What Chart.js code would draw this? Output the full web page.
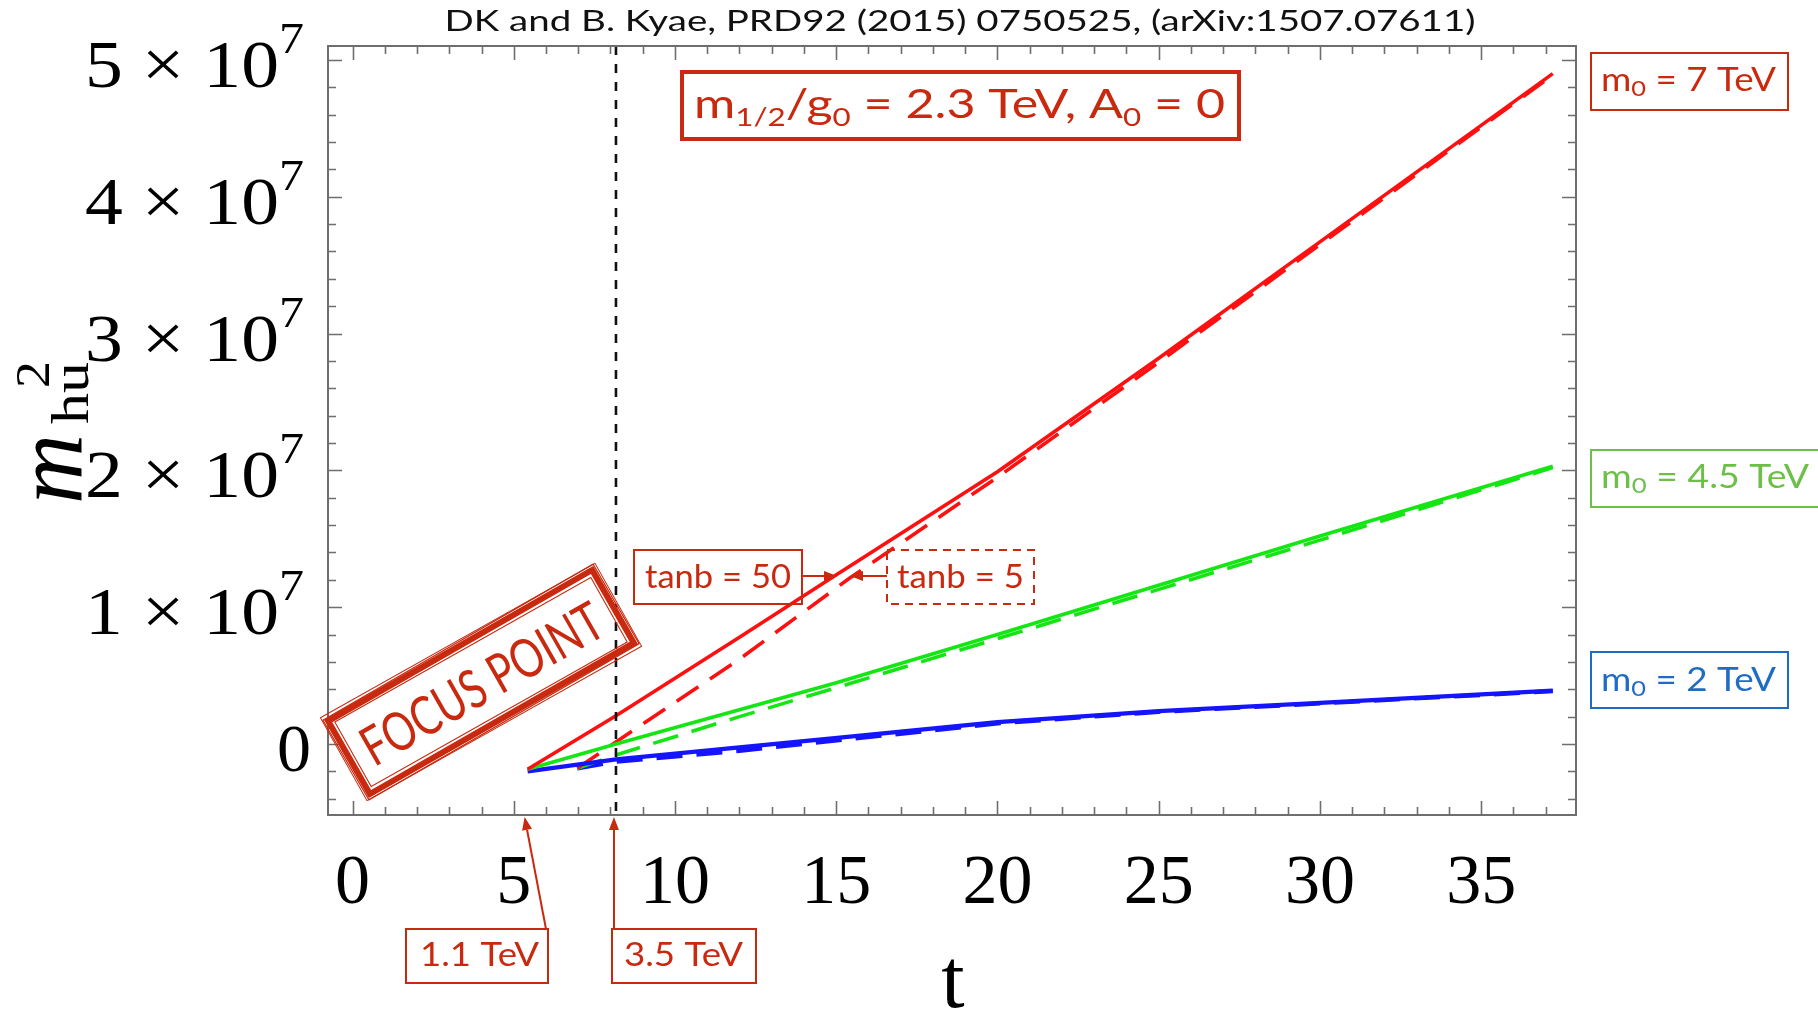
<!DOCTYPE html>
<html>
<head>
<meta charset="utf-8">
<title>m_Hu^2 running</title>
<script src="https://cdn.jsdelivr.net/npm/chart.js@4.4.1/dist/chart.umd.min.js"></script>
<style>
  html, body { margin: 0; padding: 0; background: #fff; }
  #wrap { width: 1818px; height: 1010px; }
</style>
</head>
<body>
<div id="wrap"><canvas id="chart" width="1818" height="1010"></canvas></div>
<script>
// m_Hu^2 running with t; solid = tanb 50, dashed = tanb 5
const tSolid = [5.43, 8.17, 12, 15.03, 20, 25, 30, 37.22];
const tDashed = [6.97, 8.17, 12, 15.4, 20, 25, 30, 37.22];

const m7Solid = [-0.185e7, 0.207e7, 0.78e7, 1.24e7, 1.99e7, 2.82e7, 3.67e7, 4.90e7];
const m45Solid = [-0.185e7, 0.0, 0.25e7, 0.45e7, 0.80e7, 1.16e7, 1.52e7, 2.03e7];
const m2Solid = [-0.20e7, -0.112e7, -0.025e7, 0.045e7, 0.16e7, 0.24e7, 0.30e7, 0.39e7];

const m7Dashed = [-0.178e7, 0.015e7, 0.62e7, 1.21e7, 1.95e7, 2.79e7, 3.65e7, 4.89e7];
const m45Dashed = [-0.178e7, -0.08e7, 0.20e7, 0.44e7, 0.77e7, 1.13e7, 1.49e7, 2.02e7];
const m2Dashed = [-0.178e7, -0.13e7, -0.05e7, 0.035e7, 0.15e7, 0.235e7, 0.296e7, 0.386e7];

const tFocus = 8.17; // m0 = 3.5 TeV crossing

const xTickValues = [0, 5, 10, 15, 20, 25, 30, 35];
const xTickLabels = ['0', '5', '10', '15', '20', '25', '30', '35'];
const yTickValues = [0, 1e7, 2e7, 3e7, 4e7, 5e7];
const yTickLabels = ['0', '1', '2', '3', '4', '5'];

const SERIF = '"Liberation Serif", "DejaVu Serif", serif';
const SANS = 'Lato, "Open Sans", sans-serif';
const ANN_RED = '#c8290f';
const ANN_GREEN = '#6cc04a';
const ANN_BLUE = '#1f6cc4';

function series(t, m, color, dash, width) {
  return {
    data: t.map((x, i) => ({ x: x, y: m[i] })),
    showLine: true,
    borderColor: color,
    borderWidth: width,
    borderDash: dash,
    pointRadius: 0,
    fill: false,
    tension: 0
  };
}

function fontOf(s, family) {
  return (s.style || '') + ' ' + (s.weight || '') + ' ' + s.size + 'px ' + (s.family || family);
}

// draws a run of text pieces (sub/superscripts via dy), optionally squeezed to a width
function drawRich(ctx, segs, x, y, o) {
  ctx.save();
  let natural = 0;
  segs.forEach(s => { ctx.font = fontOf(s, o.family); natural += ctx.measureText(s.text).width; });
  const sx = o.width ? o.width / natural : 1;
  const w = natural * sx;
  const start = o.align === 'center' ? x - w / 2 : o.align === 'right' ? x - w : x;
  ctx.translate(start, y);
  ctx.scale(sx, 1);
  ctx.fillStyle = o.color;
  ctx.textAlign = 'left';
  ctx.textBaseline = 'alphabetic';
  let cx = 0;
  segs.forEach(s => {
    ctx.font = fontOf(s, o.family);
    ctx.fillText(s.text, cx, s.dy || 0);
    cx += ctx.measureText(s.text).width;
  });
  ctx.restore();
}

function rect(ctx, x0, y0, x1, y1, color, lw, dash) {
  ctx.save();
  ctx.strokeStyle = color;
  ctx.lineWidth = lw;
  ctx.setLineDash(dash || []);
  ctx.strokeRect(x0, y0, x1 - x0, y1 - y0);
  ctx.restore();
}

function arrow(ctx, x0, y0, x1, y1, color) {
  const a = Math.atan2(y1 - y0, x1 - x0);
  const len = 13, half = 5;
  ctx.save();
  ctx.strokeStyle = color;
  ctx.fillStyle = color;
  ctx.lineWidth = 2;
  ctx.beginPath();
  ctx.moveTo(x0, y0);
  ctx.lineTo(x1 - len * Math.cos(a), y1 - len * Math.sin(a));
  ctx.stroke();
  ctx.beginPath();
  ctx.moveTo(x1, y1);
  ctx.lineTo(x1 - len * Math.cos(a) + half * Math.sin(a), y1 - len * Math.sin(a) - half * Math.cos(a));
  ctx.lineTo(x1 - len * Math.cos(a) - half * Math.sin(a), y1 - len * Math.sin(a) + half * Math.cos(a));
  ctx.closePath();
  ctx.fill();
  ctx.restore();
}

const framePlugin = {
  id: 'frame',
  afterDatasetsDraw(chart) {
    const ctx = chart.ctx;
    const a = chart.chartArea;
    const xs = chart.scales.x, ys = chart.scales.y;

    // vertical dashed marker
    const xf = xs.getPixelForValue(tFocus);
    ctx.save();
    ctx.strokeStyle = '#111';
    ctx.lineWidth = 2.6;
    ctx.setLineDash([9, 9]);
    ctx.beginPath();
    ctx.moveTo(xf, a.top);
    ctx.lineTo(xf, a.bottom);
    ctx.stroke();
    ctx.restore();

    // frame with inward ticks on all sides
    ctx.save();
    ctx.strokeStyle = '#6e6e6e';
    ctx.lineWidth = 2;
    ctx.strokeRect(a.left, a.top, a.right - a.left, a.bottom - a.top);
    ctx.lineWidth = 1.6;
    ctx.beginPath();
    for (let t = 0; t <= Math.floor(xs.max); t++) {
      const px = Math.round(xs.getPixelForValue(t)) + 0.5;
      const L = t % 5 === 0 ? 14 : 8;
      ctx.moveTo(px, a.bottom); ctx.lineTo(px, a.bottom - L);
      ctx.moveTo(px, a.top); ctx.lineTo(px, a.top + L);
    }
    for (let k = Math.ceil(ys.min / 2e6); k * 2e6 <= ys.max; k++) {
      const py = Math.round(ys.getPixelForValue(k * 2e6)) + 0.5;
      const L = k % 5 === 0 ? 14 : 8;
      ctx.moveTo(a.left, py); ctx.lineTo(a.left + L, py);
      ctx.moveTo(a.right, py); ctx.lineTo(a.right - L, py);
    }
    ctx.stroke();
    ctx.restore();

    // tick labels
    xTickValues.forEach((v, i) => {
      drawRich(ctx, [{ text: xTickLabels[i], size: 70 }], xs.getPixelForValue(v), 903,
        { family: SERIF, color: '#000', align: 'center' });
    });
    yTickValues.forEach((v, i) => {
      const py = ys.getPixelForValue(v) + 27;
      if (v === 0) {
        drawRich(ctx, [{ text: '0', size: 68 }], 311, py, { family: SERIF, color: '#000', align: 'right' });
      } else {
        drawRich(ctx, [{ text: yTickLabels[i] + ' \u00d7 10', size: 68 }, { text: '7', size: 45, dy: -34 }],
          304, py, { family: SERIF, color: '#000', align: 'right', width: 219 });
      }
    });

    // axis titles
    drawRich(ctx, [{ text: 't', size: 84 }], 953, 1007, { family: SERIF, color: '#000', align: 'center' });
    ctx.save();
    ctx.translate(81, 504);
    ctx.rotate(-Math.PI / 2);
    drawRich(ctx, [{ text: 'm', size: 98, style: 'italic' }], 0, 0, { family: SERIF, color: '#000', align: 'left', width: 70 });
    ctx.restore();
    ctx.save();
    ctx.translate(88, 424);
    ctx.rotate(-Math.PI / 2);
    drawRich(ctx, [{ text: 'hu', size: 52 }], 0, 0, { family: SERIF, color: '#000', align: 'left', width: 62 });
    ctx.restore();
    ctx.save();
    ctx.translate(49, 388);
    ctx.rotate(-Math.PI / 2);
    drawRich(ctx, [{ text: '2', size: 48 }], 0, 0, { family: SERIF, color: '#000', align: 'left', width: 27 });
    ctx.restore();
  }
};

// rough rubber-stamp outline: a heavy stroke plus a few thin offset strokes
function stampFrame(ctx, W, H, color) {
  ctx.strokeStyle = color;
  ctx.lineWidth = 6;
  ctx.strokeRect(-W / 2 + 4, -H / 2 + 4, W - 8, H - 8);
  const layers = [[0, -0.004, 1.2], [2, 0.003, 1.4], [9, 0.006, 1.1], [-1.5, 0.008, 1]];
  layers.forEach(([inset, rot, lw]) => {
    ctx.save();
    ctx.rotate(rot);
    ctx.lineWidth = lw;
    ctx.strokeRect(-W / 2 + inset, -H / 2 + inset, W - 2 * inset, H - 2 * inset);
    ctx.restore();
  });
}

const notesPlugin = {
  id: 'notes',
  afterDraw(chart) {
    const ctx = chart.ctx;
    const xs = chart.scales.x;
    const a = chart.chartArea;

    // header
    drawRich(ctx, [{ text: 'DK and B. Kyae, PRD92 (2015) 0750525, (arXiv:1507.07611)', size: 29 }],
      960, 31, { family: SANS, color: '#111', align: 'center', width: 1031 });

    // parameter box
    rect(ctx, 682, 72, 1239, 139, ANN_RED, 4);
    drawRich(ctx, [
      { text: 'm', size: 40 }, { text: '1/2', size: 25, dy: 8 }, { text: '/g', size: 40 },
      { text: '0', size: 25, dy: 8 }, { text: ' = 2.3 TeV, A', size: 40 }, { text: '0', size: 25, dy: 8 },
      { text: ' = 0', size: 40 }
    ], 694, 118, { family: SANS, color: ANN_RED, align: 'left', width: 531 });

    // m0 labels on the right
    const m0 = (val) => [{ text: 'm', size: 32 }, { text: '0', size: 22, dy: 5 }, { text: ' = ' + val + ' TeV', size: 32 }];
    rect(ctx, 1591, 53, 1788, 110, ANN_RED, 2);
    drawRich(ctx, m0('7'), 1601, 91, { family: SANS, color: ANN_RED, align: 'left', width: 175 });
    rect(ctx, 1591, 450, 1830, 507, ANN_GREEN, 2);
    drawRich(ctx, m0('4.5'), 1601, 488, { family: SANS, color: ANN_GREEN, align: 'left', width: 208 });
    rect(ctx, 1591, 652, 1788, 708, ANN_BLUE, 2);
    drawRich(ctx, m0('2'), 1601, 691, { family: SANS, color: ANN_BLUE, align: 'left', width: 175 });

    // tan beta labels
    rect(ctx, 634, 550, 802, 604, ANN_RED, 2);
    drawRich(ctx, [{ text: 'tanb = 50', size: 33 }], 645, 588, { family: SANS, color: ANN_RED, align: 'left', width: 146 });
    arrow(ctx, 802, 576, 837, 576, ANN_RED);
    rect(ctx, 887, 550, 1034, 604, ANN_RED, 2, [8, 6]);
    drawRich(ctx, [{ text: 'tanb = 5', size: 33 }], 897, 588, { family: SANS, color: ANN_RED, align: 'left', width: 127 });
    arrow(ctx, 887, 576, 850, 576, ANN_RED);

    // scale markers under the axis
    const xStart = xs.getPixelForValue(tSolid[0]);
    const xf = xs.getPixelForValue(tFocus);
    rect(ctx, 406, 929, 548, 983, ANN_RED, 2);
    drawRich(ctx, [{ text: '1.1 TeV', size: 32 }], 420, 966, { family: SANS, color: ANN_RED, align: 'left', width: 119 });
    arrow(ctx, 546, 929, xStart - 3, a.bottom + 2, ANN_RED);
    rect(ctx, 612, 929, 756, 983, ANN_RED, 2);
    drawRich(ctx, [{ text: '3.5 TeV', size: 32 }], 624, 966, { family: SANS, color: ANN_RED, align: 'left', width: 119 });
    arrow(ctx, xf - 2, 929, xf - 2, a.bottom + 2, ANN_RED);

    // FOCUS POINT stamp
    ctx.save();
    ctx.translate(481, 682);
    ctx.rotate(-29.8 * Math.PI / 180);
    stampFrame(ctx, 312, 92, ANN_RED);
    drawRich(ctx, [{ text: 'FOCUS POINT', size: 54 }], 0, 21,
      { family: SANS, color: ANN_RED, align: 'center', width: 270 });
    ctx.restore();
  }
};

new Chart(document.getElementById('chart'), {
  type: 'scatter',
  data: {
    datasets: [
      series(tSolid, m7Solid, '#ff1010', [], 3.6),
      series(tSolid, m45Solid, '#14e614', [], 3.6),
      series(tSolid, m2Solid, '#1414ff', [], 4.2),
      series(tDashed, m7Dashed, '#ff1010', [26, 14], 3.6),
      series(tDashed, m45Dashed, '#14e614', [26, 14], 3.6),
      series(tDashed, m2Dashed, '#1414ff', [26, 14], 4.2)
    ]
  },
  options: {
    responsive: false,
    animation: false,
    devicePixelRatio: 1,
    layout: { padding: { left: 328, top: 46, right: 242, bottom: 195 } },
    plugins: { legend: { display: false }, tooltip: { enabled: false } },
    scales: {
      x: { type: 'linear', min: -0.76, max: 37.94, display: false },
      y: { type: 'linear', min: -0.519e7, max: 5.102e7, display: false }
    }
  },
  plugins: [framePlugin, notesPlugin]
});
</script>
</body>
</html>
